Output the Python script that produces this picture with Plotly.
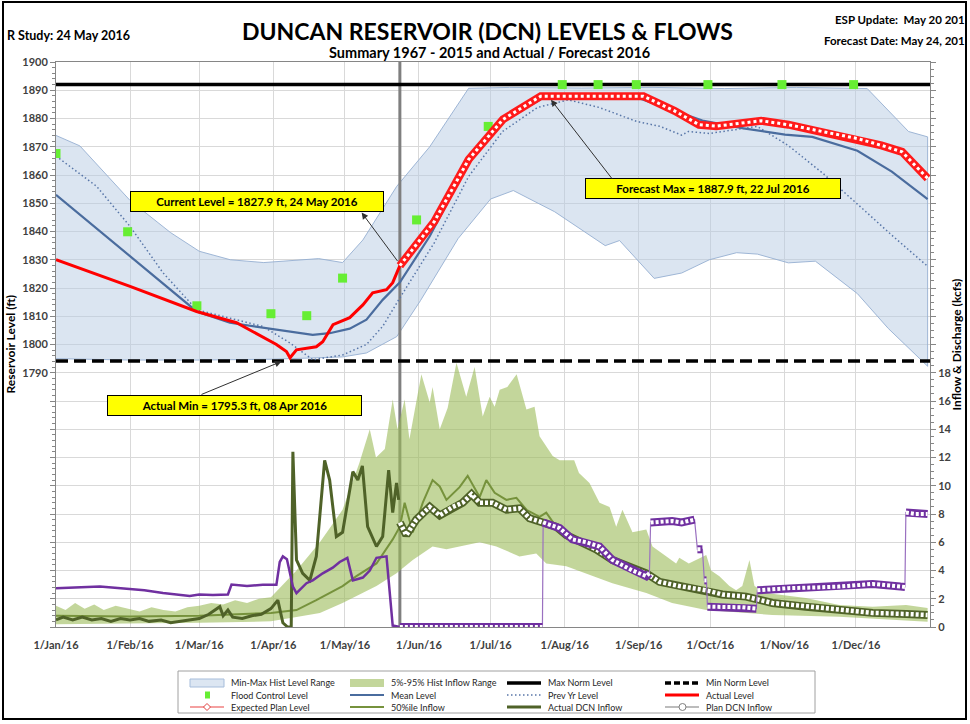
import pandas as pd
import plotly.graph_objects as go

BASE = pd.Timestamp("2016-01-01")

# ---------------- data (day offsets from 1 Jan 2016) ----------------
month_days = [0, 31, 60, 91, 121, 152, 182, 213, 244, 274, 305, 335]
month_labels = ["1/Jan/16", "1/Feb/16", "1/Mar/16", "1/Apr/16", "1/May/16", "1/Jun/16",
                "1/Jul/16", "1/Aug/16", "1/Sep/16", "1/Oct/16", "1/Nov/16", "1/Dec/16"]

hist_upper_days = [0, 10, 31, 48, 60, 73, 87, 110, 120, 128.5, 142.7, 156.5, 172.8, 190, 220,
                   250, 280, 310, 339.7, 348.5, 357, 365]
hist_upper = [1874, 1870.3, 1851, 1839.6, 1833, 1830, 1829, 1830.4, 1829, 1837, 1856, 1870,
              1890.7, 1891, 1890.8, 1891, 1890.6, 1891, 1890.6, 1882.7, 1875.4, 1873.5]
hist_lower_days = [0, 31, 60, 91, 120, 130, 142.7, 152.6, 168.4, 182, 191.5, 208.8, 230, 236,
                   250.5, 262, 273.6, 285, 293.7, 306.7, 318, 335.6, 348.5, 365]
hist_lower = [1795, 1794.5, 1794.5, 1794.8, 1795.6, 1797, 1802.8, 1815.5, 1837.5, 1851.5,
              1854.5, 1847, 1835, 1836.8, 1823.4, 1825.3, 1830, 1832.5, 1832, 1828.9, 1829.5,
              1818, 1805.7, 1792.3]

mean_days = [0, 31, 58.9, 72.8, 93.7, 107.5, 114.6, 123, 130, 136.8, 144, 156.5, 172.8, 187,
             204.4, 243, 259, 270.7, 287.9, 305.3, 316.7, 335.6, 350, 365]
mean_lvl = [1853, 1831.2, 1811.7, 1807.7, 1805, 1803.4, 1804, 1805.6, 1808.8, 1815.8, 1822,
            1838.3, 1864.4, 1879, 1887.5, 1887.5, 1882.7, 1879.3, 1876.5, 1874.3, 1873.5,
            1868.6, 1861.2, 1851.5]

prev_days = [0, 17, 31, 44.8, 58.9, 86.6, 97.9, 107.5, 120, 130, 136.8, 144, 158.4, 172.8,
             187, 201.6, 214.5, 227.5, 243, 253, 262, 264.8, 273.6, 283.7, 293.7, 306.7, 321,
             335.6, 350, 365]
prev_lvl = [1866.7, 1856, 1841.8, 1825.4, 1812.3, 1806.4, 1800.6, 1794.6, 1796.3, 1800,
            1806.4, 1816.5, 1836, 1859.5, 1875.4, 1883.9, 1886.6, 1883.9, 1879, 1877.2, 1874.1,
            1875.4, 1874.7, 1875.9, 1877.2, 1870.4, 1860.7, 1849.7, 1838.7, 1827.7]

actual_days = [0, 31, 58.9, 75.6, 92.3, 96.5, 98, 100.7, 109, 111.7, 116, 123, 128.5, 132.6,
               138.4, 141, 144]
actual_lvl = [1830, 1820.6, 1811.7, 1807.7, 1800, 1797.5, 1795.3, 1798.1, 1799.2, 1801, 1807,
              1809.5, 1814, 1818.3, 1819.4, 1821.9, 1827.9]

plan_days = [144, 158.4, 172.8, 187.2, 203, 246, 259, 269.3, 276.5, 287.9, 295.3, 306.7, 321,
             335.6, 345.6, 354.3, 365]
plan_lvl = [1827.9, 1843.5, 1865.5, 1879.7, 1887.9, 1887.9, 1882.7, 1877.8, 1877.3, 1878.4,
            1879.2, 1877.8, 1875.3, 1872.9, 1870.5, 1868.2, 1858.8]

flood_days = [0, 30, 59, 90, 105, 120, 151, 181, 212, 227, 243, 273, 304, 334]
flood_lvl = [1867.6, 1839.9, 1813.7, 1810.9, 1810.2, 1823.5, 1844.1, 1877.2, 1892, 1892, 1892,
             1892, 1892, 1892]

max_norm = 1892.0
min_norm = 1794.2
current_day = 144

inflow_hi_days = [0, 4, 8, 12, 16, 20, 25, 30, 35, 40, 45, 50, 55, 60, 65, 70, 75, 80, 85, 90,
                  100.7, 110.5, 120, 127, 131.4, 134, 137.7, 141, 143, 146, 148, 153, 156.5,
                  157.7, 160.7, 164, 167.7, 171.8, 175.3, 178.7, 181.6, 183.7, 185.8, 189,
                  192.9, 197, 200.4, 202.5, 208, 210.9, 213.7, 217, 219, 223.4, 227.6, 231.8,
                  234.6, 237.2, 241.4, 247.2, 249.8, 254, 255.5, 259.7, 261, 265, 272.3, 274.3,
                  277.8, 282, 284.8, 287.4, 290.4, 292.5, 297.4, 314, 328, 342, 356, 365]
inflow_hi = [1.5, 1.2, 1.7, 1.3, 1.6, 1.2, 1.5, 1.3, 1.1, 1.4, 1.2, 1.1, 1.4, 1.5, 1.7, 1.6, 1.9,
             1.7, 2.0, 2.1, 4.0, 6.0, 8.3, 11.6, 14.0, 12.0, 12.6, 16.1, 14.0, 16.1, 13.3, 17.9,
             15.9, 17.0, 14.0, 15.5, 18.7, 16.3, 18.4, 14.9, 16.3, 15.6, 16.8, 17.0, 17.9, 15.4,
             15.6, 13.5, 12.1, 11.8, 11.8, 11.8, 10.9, 10.2, 8.8, 8.5, 7.1, 8.3, 6.7, 6.9, 5.7,
             5.2, 5.0, 4.5, 4.9, 4.5, 5.1, 4.0, 3.6, 2.9, 2.6, 2.9, 4.75, 2.9, 2.4, 2.05, 1.56,
             1.44, 1.56, 1.35]
inflow_lo_days = [0, 31, 60, 90, 100.7, 110.5, 120, 134.2, 142.6, 149.4, 153.6, 157.7, 163.5,
                  177.4, 184.4, 194.1, 201.1, 205.3, 213.7, 222, 233, 247.2, 258, 272.3, 300,
                  328, 365]
inflow_lo = [0.2, 0.25, 0.3, 0.4, 0.7, 1.0, 1.7, 2.9, 3.8, 4.75, 5.2, 5.7, 5.5, 6.0, 5.7, 5.0,
             5.2, 4.5, 4.3, 3.8, 3.1, 2.4, 1.7, 1.2, 0.85, 0.73, 0.38]

median_days = [0, 31, 60, 75, 90, 100.7, 109, 120, 125.8, 134.2, 141, 144, 146, 149.4, 153.6,
               157.7, 160.7, 163.5, 169, 172.4, 177.4, 180.2, 183.7, 188.6, 192.8, 197, 202.5,
               205.3, 209.5, 219, 226, 233, 240, 247, 253, 261, 272, 279, 289, 300, 314, 328,
               342, 356, 365]
median_flow = [0.8, 0.75, 0.8, 0.9, 1.0, 1.2, 1.9, 2.9, 3.6, 4.5, 6.2, 7.1, 8.8, 6.7, 8.8, 10.4,
               9.95, 9.0, 9.9, 10.7, 9.2, 10.4, 9.5, 9.0, 9.15, 8.3, 7.8, 8.1, 7.1, 6.0, 5.4,
               4.7, 4.2, 3.7, 3.2, 2.9, 2.6, 2.3, 2.1, 1.7, 1.45, 1.2, 1.0, 0.95, 0.9]

act_in_days = [0, 3, 7, 11, 15, 19, 23, 27, 31, 35, 39, 44, 48, 52, 56, 60, 64, 68.6, 70, 72,
               74, 78, 82, 86, 90, 92.9, 95, 97, 98.5, 99.2, 100.7, 103.3, 106.3, 109, 112.5,
               114.6, 117.4, 120, 124.3, 126.4, 128.3, 130.5, 134.2, 136.8, 139.3, 141, 142.6,
               143.5]
act_in = [0.5, 0.7, 0.5, 0.7, 0.5, 0.6, 0.4, 0.6, 0.5, 0.6, 0.4, 0.5, 0.3, 0.4, 0.5, 0.6, 0.9,
          1.44, 0.8, 1.2, 0.7, 0.6, 0.8, 0.9, 1.3, 1.9, 0.3, 0.0, 0.0, 12.4, 4.75, 3.8, 3.3, 5.0,
          11.8, 10.4, 6.4, 6.7, 11.0, 10.4, 11.4, 7.1, 5.7, 6.4, 11.1, 8.1, 10.2, 9.0]

plan_in_days = [144, 146.7, 150.9, 156.5, 160.7, 166.1, 170.3, 174, 177.4, 182.8, 188.6, 194.1,
                198.3, 203.8, 209.5, 213.7, 219.2, 226.2, 233, 240.2, 247.2, 252.7, 261, 272.3,
                279, 289, 300, 314, 328, 342, 356, 365]
plan_in = [7.4, 6.5, 7.6, 8.5, 7.9, 8.5, 8.8, 9.4, 8.8, 8.8, 8.3, 8.4, 7.7, 7.4, 7.1, 6.5, 6.05,
           5.5, 4.75, 4.2, 3.8, 3.2, 2.9, 2.6, 2.3, 2.15, 1.7, 1.44, 1.2, 1.0, 0.92, 0.85]

act_out_days = [0, 10, 18.4, 29.6, 37, 44.8, 56, 60, 65.7, 72, 73.5, 80, 86.6, 92.3, 93.7, 95,
                96.7, 99.2, 100.7, 104.9, 107.5, 111.7, 115.9, 118.8, 122, 124.3, 128.5, 131.4,
                134.2, 138.4, 139.7, 141, 144]
act_out = [2.75, 2.8, 2.86, 2.7, 2.6, 2.4, 2.2, 2.3, 2.27, 2.3, 3.0, 2.9, 3.0, 3.0, 4.6, 5.0,
           4.8, 2.86, 2.4, 3.1, 3.3, 3.8, 4.2, 4.6, 4.9, 3.3, 3.5, 4.0, 4.9, 5.0, 2.6, 0.1, 0.0]

plan_out_days = [144, 160, 180, 203.7, 204, 210.9, 216.3, 222, 227.6, 233, 241.4, 247.2, 248.5,
                 249, 258, 262, 267.4, 268.6, 270.7, 271.5, 272.4, 272.8, 280, 287, 293.3, 293.7,
                 306.7, 318, 327.6, 342, 353.6, 355.5, 355.9, 360, 365]
plan_out = [0, 0, 0, 0, 7.4, 7.0, 6.2, 6.0, 5.7, 4.75, 4.0, 3.6, 3.8, 7.4, 7.5, 7.4, 7.6, 5.5,
            5.5, 3.3, 3.3, 1.44, 1.44, 1.4, 1.3, 2.6, 2.75, 2.8, 2.86, 3.05, 2.86, 2.84, 8.1,
            8.0, 8.0]

level_ticks = list(range(1700, 1901, 10))
flow_ticks = list(range(0, 41, 2))

# ---------------- helpers ----------------
def d(days):
    return [None if v is None else BASE + pd.Timedelta(days=float(v)) for v in days]

L, R, T, B, W, H = 56, 40, 62, 97, 970, 724
PW, PH = W - L - R, H - T - B


def px(x):
    return (x - L) / PW


def py(y):
    return (H - B - y) / PH


def split_runs(days, vals, thr=1.0):
    xs, ys = [], []
    for i, (a, b) in enumerate(zip(days, vals)):
        if i > 0 and abs(b - vals[i - 1]) > thr:
            xs.append(None)
            ys.append(None)
        xs.append(a)
        ys.append(b)
    return xs, ys


fig = go.Figure()
NL = dict(showlegend=False, hoverinfo="skip")

# bands
fig.add_trace(go.Scatter(x=d(hist_upper_days) + d(hist_lower_days)[::-1],
                         y=hist_upper + hist_lower[::-1], fill="toself",
                         fillcolor="rgba(184,204,228,0.5)", mode="lines",
                         line=dict(color="rgba(150,175,210,0.9)", width=1), **NL))
fig.add_trace(go.Scatter(x=d(inflow_hi_days) + d(inflow_lo_days)[::-1],
                         y=inflow_hi + inflow_lo[::-1], fill="toself",
                         fillcolor="rgba(155,187,89,0.6)", mode="lines",
                         line=dict(width=0), yaxis="y2", **NL))

# current date line
fig.add_trace(go.Scatter(x=d([current_day, current_day]), y=[1700, 1900], mode="lines",
                         line=dict(color="#7f7f7f", width=3), **NL))

# level lines
fig.add_trace(go.Scatter(x=d([0, 366]), y=[max_norm, max_norm], mode="lines",
                         line=dict(color="black", width=3.5), **NL))
fig.add_trace(go.Scatter(x=d([0, 366]), y=[min_norm, min_norm], mode="lines",
                         line=dict(color="black", width=3.5, dash="12px,6px"), **NL))
fig.add_trace(go.Scatter(x=d(prev_days), y=prev_lvl, mode="lines",
                         line=dict(color="#5876a8", width=1.5, dash="1.5px,2.5px"), **NL))
fig.add_trace(go.Scatter(x=d(mean_days), y=mean_lvl, mode="lines",
                         line=dict(color="#4a6c9e", width=2.2), **NL))
fig.add_trace(go.Scatter(x=d(flood_days), y=flood_lvl, mode="markers",
                         marker=dict(symbol="square", size=9, color="#66ee33"), **NL))
fig.add_trace(go.Scatter(x=d(actual_days), y=actual_lvl, mode="lines",
                         line=dict(color="#ff0000", width=3), **NL))
fig.add_trace(go.Scatter(x=d(plan_days), y=plan_lvl, mode="lines",
                         line=dict(color="#ff1a1a", width=8), **NL))
fig.add_trace(go.Scatter(x=d(plan_days), y=plan_lvl, mode="lines",
                         line=dict(color="white", width=3, dash="dot"), **NL))

# flows
fig.add_trace(go.Scatter(x=d(median_days), y=median_flow, mode="lines", yaxis="y2",
                         line=dict(color="#76923c", width=2), **NL))
fig.add_trace(go.Scatter(x=d(act_in_days), y=act_in, mode="lines", yaxis="y2",
                         line=dict(color="#4f6228", width=3), **NL))
fig.add_trace(go.Scatter(x=d(act_out_days), y=act_out, mode="lines", yaxis="y2",
                         line=dict(color="#7030a0", width=2.5), **NL))
fig.add_trace(go.Scatter(x=d(plan_in_days), y=plan_in, mode="lines", yaxis="y2",
                         line=dict(color="#4f6228", width=8), **NL))
fig.add_trace(go.Scatter(x=d(plan_in_days), y=plan_in, mode="lines", yaxis="y2",
                         line=dict(color="white", width=4.5, dash="3px,2px"), **NL))
fig.add_trace(go.Scatter(x=d(plan_out_days), y=plan_out, mode="lines", yaxis="y2",
                         line=dict(color="#9a70c0", width=1.2), **NL))
sx, sy = split_runs(plan_out_days, plan_out)
fig.add_trace(go.Scatter(x=d(sx), y=sy, mode="lines", yaxis="y2", connectgaps=False,
                         line=dict(color="#7030a0", width=8), **NL))
fig.add_trace(go.Scatter(x=d(sx), y=sy, mode="lines", yaxis="y2", connectgaps=False,
                         line=dict(color="white", width=4, dash="3px,2px"), **NL))

# ---------------- annotations ----------------
ann = []
ann.append(dict(text="<b>DUNCAN RESERVOIR (DCN) LEVELS &amp; FLOWS</b>", x=px(487), y=py(31),
                font=dict(size=23, color="black")))
ann.append(dict(text="<b>Summary 1967 - 2015 and Actual / Forecast 2016</b>", x=px(489),
                y=py(53), font=dict(size=14.5, color="black")))
ann.append(dict(text="<b>R Study: 24 May 2016</b>", x=px(5), y=py(35), xanchor="left",
                font=dict(size=12.5, color="black")))
ann.append(dict(text="<b>ESP Update:  May 20 201</b>", x=px(967), y=py(19), xanchor="right",
                font=dict(size=11.5, color="black")))
ann.append(dict(text="<b>Forecast Date: May 24, 201</b>", x=px(967), y=py(40),
                xanchor="right", font=dict(size=11.5, color="black")))
ann.append(dict(text="<b>Reservoir Level (ft)</b>", x=px(10), y=0.5, textangle=-90,
                font=dict(size=12, color="black")))
ann.append(dict(text="<b>Inflow &amp; Discharge (kcfs)</b>", x=px(956), y=0.5, textangle=-90,
                font=dict(size=12, color="black")))
for a in ann:
    a.update(xref="paper", yref="paper", showarrow=False)
    a.setdefault("xanchor", "center")
    a.setdefault("yanchor", "middle")

boxes = [("<b>Current Level = 1827.9 ft, 24 May 2016</b>", 84.3, 1850.7, 248),
         ("<b>Forecast Max = 1887.9 ft, 22 Jul 2016</b>", 275.1, 1855.1, 250),
         ("<b>Actual Min = 1795.3 ft, 08 Apr 2016</b>", 74.9, 1778.4, 249)]
for txt, xd, yl, w in boxes:
    ann.append(dict(text=txt, x=d([xd])[0], y=yl, xref="x", yref="y", showarrow=False,
                    bgcolor="#ffff00", bordercolor="black", borderwidth=1, borderpad=2,
                    width=w, height=15, font=dict(size=11.5, color="black")))

arrows = [(128.0, 1846.7, 143.5, 1829.0),
          (207.3, 1886.6, 233.3, 1858.2),
          (94.4, 1794.0, 60.3, 1782.1)]
for hx, hy, tx, ty in arrows:
    ann.append(dict(text="", x=d([hx])[0], y=hy, ax=d([tx])[0], ay=ty, xref="x", yref="y",
                    axref="x", ayref="y", showarrow=True, arrowhead=2, arrowsize=1.3,
                    arrowwidth=1, arrowcolor="#303030"))

# ---------------- custom legend ----------------
shapes = []
shapes.append(dict(type="rect", xref="paper", yref="paper", x0=px(3), x1=px(966), y0=py(719),
                   y1=py(2), line=dict(color="black", width=2), layer="below"))
shapes.append(dict(type="rect", xref="paper", yref="paper", x0=px(178), x1=px(815),
                   y0=py(713), y1=py(671), line=dict(color="#a0a0a0", width=1),
                   fillcolor="white", layer="below"))
cols = [190, 350, 507, 665]
rows = [683, 695, 707]
labels = [["Min-Max Hist Level Range", "Flood Control Level", "Expected Plan Level"],
          ["5%-95% Hist Inflow Range", "Mean Level", "50%ile Inflow"],
          ["Max Norm Level", "Prev Yr Level", "Actual DCN Inflow"],
          ["Min Norm Level", "Actual Level", "Plan DCN Inflow"]]
SW = 34


def hline(c, r, color, width, dash="solid"):
    shapes.append(dict(type="line", xref="paper", yref="paper", x0=px(c), x1=px(c + SW),
                       y0=py(r), y1=py(r), line=dict(color=color, width=width, dash=dash)))


for ci, c in enumerate(cols):
    for ri, r in enumerate(rows):
        ann.append(dict(text=labels[ci][ri], x=px(c + SW + 5), y=py(r), xref="paper",
                        yref="paper", xanchor="left", yanchor="middle", showarrow=False,
                        font=dict(size=9, color="#262626")))
# col 1
shapes.append(dict(type="rect", xref="paper", yref="paper", x0=px(190), x1=px(190 + SW),
                   y0=py(687), y1=py(679), fillcolor="#dce6f2",
                   line=dict(color="#a6bddb", width=1)))
shapes.append(dict(type="rect", xref="paper", yref="paper", x0=px(205), x1=px(210),
                   y0=py(698.5), y1=py(691.5), fillcolor="#66ee33", line=dict(width=0)))
hline(190, 707, "#f08080", 1.5)
cx, cy, s = 207, 707, 3.5
shapes.append(dict(type="path", xref="paper", yref="paper",
                   path=f"M {px(cx - s)} {py(cy)} L {px(cx)} {py(cy - s)} L {px(cx + s)} {py(cy)} "
                        f"L {px(cx)} {py(cy + s)} Z",
                   fillcolor="white", line=dict(color="#e04040", width=1)))
# col 2
shapes.append(dict(type="rect", xref="paper", yref="paper", x0=px(350), x1=px(350 + SW),
                   y0=py(687), y1=py(679), fillcolor="#c3d69b", line=dict(width=0)))
hline(350, 695, "#4a6c9e", 2)
hline(350, 707, "#76923c", 2)
# col 3
hline(507, 683, "black", 3.5)
hline(507, 695, "#5876a8", 1.5, "1.5px,2.5px")
hline(507, 707, "#4f6228", 3)
# col 4
hline(665, 683, "black", 3.5, "6px,3px")
hline(665, 695, "#ff0000", 3)
hline(665, 707, "#a6a6a6", 1.5)
shapes.append(dict(type="circle", xref="paper", yref="paper", x0=px(679), x1=px(686),
                   y0=py(710.5), y1=py(703.5), fillcolor="white",
                   line=dict(color="#808080", width=1)))

tickfont = dict(size=11, color="#404040", weight="bold")
fig.update_layout(
    width=W, height=H, margin=dict(l=L, r=R, t=T, b=B),
    paper_bgcolor="white", plot_bgcolor="white", showlegend=False,
    font=dict(family="Lato, Noto Sans, sans-serif", color="#262626"),
    xaxis=dict(type="date", range=d([0, 366]), tickmode="array", tickvals=d(month_days),
               ticktext=month_labels, showgrid=True, gridcolor="#d9d9d9", ticks="",
               showline=True, linecolor="#868686", mirror=True, tickfont=tickfont,
               ticklabelstandoff=8, zeroline=False),
    yaxis=dict(range=[1700, 1900], tickmode="array", tickvals=level_ticks,
               ticktext=[str(v) if v >= 1790 else "" for v in level_ticks],
               showgrid=True, gridcolor="#d9d9d9", ticks="outside", ticklen=5,
               tickcolor="#868686", showline=True, linecolor="#868686", zeroline=False,
               tickfont=tickfont,
               minor=dict(tickmode="linear", tick0=1700, dtick=2, ticks="outside", ticklen=3,
                          tickcolor="#868686", showgrid=False)),
    yaxis2=dict(range=[0, 40], overlaying="y", side="right", tickmode="array",
                tickvals=flow_ticks, ticktext=[str(v) if v <= 18 else "" for v in flow_ticks],
                showgrid=False, ticks="outside", ticklen=5, tickcolor="#868686",
                showline=True, linecolor="#868686", zeroline=False, tickfont=tickfont,
                minor=dict(tickmode="linear", tick0=0, dtick=0.5, ticks="outside", ticklen=3,
                           tickcolor="#868686")),
    annotations=ann, shapes=shapes,
)

fig.write_html("out.html", config={"displayModeBar": False},
               post_script="document.body.style.margin='0px';")
